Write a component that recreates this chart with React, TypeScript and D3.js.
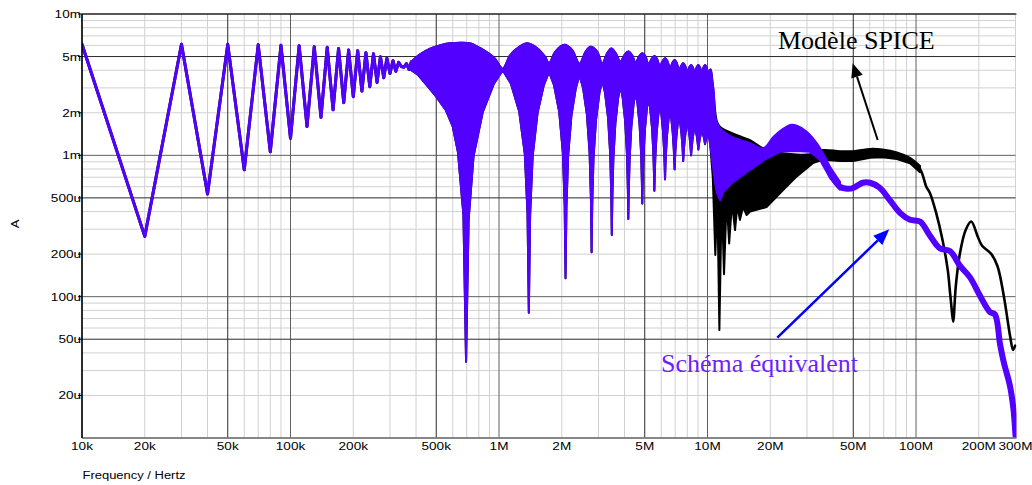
import React from 'react';
import * as d3 from 'd3';

type P = [number, number]; // [frequency MHz, current mA]

const xTickValues = [0.01, 0.02, 0.05, 0.1, 0.2, 0.5, 1, 2, 5, 10, 20, 50, 100, 200, 300];
const xTickLabels = ['10k', '20k', '50k', '100k', '200k', '500k', '1M', '2M', '5M', '10M', '20M', '50M', '100M', '200M', '300M'];
const yTickValues = [10, 5, 2, 1, 0.5, 0.2, 0.1, 0.05, 0.02];
const yTickLabels = ['10m', '5m', '2m', '1m', '500u', '200u', '100u', '50u', '20u'];

// low-frequency sweep (10 kHz step), identical for both models
const lowSweep: P[] = [
  [0.01, 6.1], [0.02, 0.267], [0.03, 6.1], [0.04, 0.533], [0.05, 6.1], [0.06, 0.79], [0.07, 6.05], [0.08, 1.06],
  [0.09, 6.0], [0.1, 1.32], [0.11, 5.97], [0.12, 1.6], [0.13, 5.87], [0.14, 1.86], [0.15, 5.81], [0.16, 2.1],
  [0.17, 5.71], [0.18, 2.36], [0.19, 5.56], [0.2, 2.6], [0.21, 5.5], [0.22, 2.85], [0.23, 5.32], [0.24, 3.06],
  [0.25, 5.24], [0.26, 3.28], [0.27, 4.99], [0.28, 3.54], [0.29, 4.86], [0.3, 3.8], [0.31, 4.67], [0.32, 3.93],
  [0.33, 4.55], [0.34, 4.25], [0.35, 4.2], [0.36, 4.45], [0.37, 4.05], [0.38, 4.6],
];

// dense comb region 0.38 - 10 MHz : upper envelope
const denseUpper: P[] = [
  [0.38, 4.6], [0.42, 5.2], [0.47, 5.7], [0.52, 6.0], [0.58, 6.2], [0.66, 6.27], [0.73, 6.2], [0.81, 5.75], [0.95, 4.88], [1.0425, 4.1],
  [1.13, 5.1], [1.26, 5.9], [1.37, 6.2], [1.53, 5.7], [1.66, 5.0], [1.7375, 4.5],
  [1.86, 5.4], [2.06, 6.05], [2.24, 5.56], [2.4325, 4.45],
  [2.6, 5.4], [2.75, 5.87], [2.95, 5.45], [3.1275, 4.45],
  [3.3, 5.27], [3.46, 5.7], [3.63, 5.27], [3.8225, 4.6],
  [3.99, 5.1], [4.17, 5.42], [4.35, 5.1], [4.5175, 4.5],
  [4.69, 5.0], [4.865, 5.27], [5.04, 5.0], [5.2125, 4.4],
  [5.39, 4.8], [5.56, 5.05], [5.73, 4.8], [5.9075, 4.25],
  [6.08, 4.62], [6.255, 4.86], [6.43, 4.62], [6.6025, 4.1],
  [6.78, 4.5], [6.95, 4.73], [7.12, 4.5], [7.2975, 4.0],
  [7.47, 4.28], [7.645, 4.48], [7.82, 4.28], [7.9925, 3.85],
  [8.17, 4.18], [8.34, 4.36], [8.51, 4.18], [8.6875, 3.8],
  [8.86, 4.18], [9.035, 4.36], [9.21, 4.18], [9.3825, 3.8],
  [9.56, 4.18], [9.73, 4.36], [9.9, 4.18], [10.0775, 3.8],
];

// dense comb region : lower envelope (notches)
const denseLower: P[] = [
  [0.38, 4.0], [0.41, 3.7], [0.445, 3.2], [0.5, 2.6], [0.555, 2.1], [0.6, 1.6], [0.635, 1.06], [0.675, 0.38], [0.695, 0.0347], [0.715, 0.352], [0.755, 0.99], [0.835, 2.02], [0.945, 3.21], [1.0425, 4.0],
  [1.14, 3.22], [1.25, 2.04], [1.33, 1.02], [1.37, 0.39], [1.39, 0.077], [1.41, 0.38], [1.45, 0.99], [1.53, 1.99], [1.64, 3.14], [1.7375, 3.9],
  [1.835, 3.15], [1.945, 2.02], [2.025, 1.04], [2.065, 0.44], [2.085, 0.135], [2.105, 0.42], [2.145, 0.99], [2.225, 1.92], [2.335, 2.99], [2.4325, 3.7],
  [2.53, 3.0], [2.64, 1.95], [2.72, 1.04], [2.76, 0.49], [2.78, 0.206], [2.8, 0.46], [2.84, 0.97], [2.92, 1.8], [3.03, 2.76], [3.1275, 3.4],
  [3.225, 2.77], [3.335, 1.84], [3.415, 1.02], [3.455, 0.52], [3.475, 0.273], [3.495, 0.5], [3.535, 0.95], [3.615, 1.69], [3.725, 2.53], [3.8225, 3.1],
  [3.92, 2.55], [4.03, 1.73], [4.11, 1.01], [4.15, 0.57], [4.17, 0.354], [4.19, 0.55], [4.23, 0.94], [4.31, 1.58], [4.42, 2.31], [4.5175, 2.8],
  [4.615, 2.33], [4.725, 1.63], [4.805, 1.02], [4.845, 0.64], [4.865, 0.457], [4.885, 0.62], [4.925, 0.96], [5.005, 1.5], [5.115, 2.13], [5.2125, 2.55],
  [5.31, 2.15], [5.42, 1.56], [5.5, 1.04], [5.54, 0.72], [5.56, 0.562], [5.58, 0.7], [5.62, 0.98], [5.7, 1.43], [5.81, 1.95], [5.9075, 2.3],
  [6.005, 1.97], [6.115, 1.49], [6.195, 1.07], [6.235, 0.81], [6.255, 0.676], [6.275, 0.79], [6.315, 1.02], [6.395, 1.39], [6.505, 1.82], [6.6025, 2.1],
  [6.7, 1.84], [6.81, 1.45], [6.89, 1.11], [6.93, 0.9], [6.95, 0.796], [6.97, 0.88], [7.01, 1.06], [7.09, 1.35], [7.2, 1.68], [7.2975, 1.9],
  [7.395, 1.7], [7.505, 1.41], [7.585, 1.15], [7.625, 0.99], [7.645, 0.912], [7.665, 0.98], [7.705, 1.11], [7.785, 1.32], [7.895, 1.56], [7.9925, 1.72],
  [8.09, 1.58], [8.2, 1.36], [8.28, 1.17], [8.32, 1.06], [8.34, 1.0], [8.36, 1.05], [8.4, 1.14], [8.48, 1.3], [8.59, 1.48], [8.6875, 1.6],
  [8.785, 1.5], [8.895, 1.35], [8.975, 1.22], [9.015, 1.14], [9.035, 1.1], [9.055, 1.13], [9.095, 1.2], [9.175, 1.3], [9.285, 1.42], [9.3825, 1.5],
  [9.48, 1.44], [9.59, 1.35], [9.67, 1.27], [9.71, 1.22], [9.73, 1.2], [9.75, 1.22], [9.79, 1.26], [9.87, 1.33], [9.98, 1.4], [10.0775, 1.45],
];

// equivalent schematic (purple) above 10 MHz
const schemaHfUpper: P[] = [
  [10.0775, 3.8], [10.25, 4.0], [10.35, 4.05], [10.55, 3.3], [10.7, 2.9], [10.9, 1.88], [11.1, 1.7], [11.5, 1.55], [13.0, 1.36],
  [16.0, 1.22], [18.5, 1.12], [20.8, 1.36], [23.2, 1.55], [24.9, 1.64], [26.8, 1.62], [29.9, 1.47], [33.4, 1.22],
  [36.5, 0.98], [38.7, 0.83], [43.2, 0.65],
];
const schemaHfLower: P[] = [
  [10.0775, 1.45], [10.3, 1.2], [10.6, 0.85], [10.9, 0.62], [11.1, 0.54], [11.5, 0.48], [11.9, 0.55], [13.0, 0.63],
  [16.0, 0.79], [19.2, 0.95], [22.3, 1.06], [24.9, 1.07], [27.8, 1.07], [31, 1.06], [34.6, 0.93], [38.7, 0.69], [43.2, 0.57],
];
const schemaTail: P[] = [
  [38.7, 0.75], [43.2, 0.6], [46.8, 0.58], [50.3, 0.59], [55.5, 0.64], [60.2, 0.64], [67, 0.59], [75, 0.48], [84, 0.39],
  [93.6, 0.35], [104.5, 0.34], [116.7, 0.27], [130, 0.22], [145.6, 0.21], [162.6, 0.165], [181.5, 0.137], [203, 0.101],
  [226, 0.078], [239, 0.075], [253, 0.046], [264, 0.034], [282, 0.0235], [293, 0.0162], [300, 0.0104],
];

// SPICE model (black) above 10 MHz
const spiceHfUpper: P[] = [
  [10.0775, 3.8], [10.25, 4.0], [10.35, 4.05], [10.55, 3.4], [10.7, 2.7], [11.1, 1.73], [11.5, 1.59], [13.2, 1.43], [16, 1.28],
  [18.5, 1.12], [21, 1.06], [24.9, 1.02], [31, 1.02], [35.6, 1.09], [43.2, 1.07], [50, 1.07], [60.2, 1.11], [69, 1.1],
  [81, 1.05], [93.6, 0.96], [104.5, 0.84],
];
const spiceHfLower: P[] = [
  [10.0775, 1.45], [10.3, 1.2], [10.6, 0.7], [10.9, 0.197], [11.15, 0.5], [11.4, 0.058], [11.7, 0.5], [12.0, 0.144],
  [12.35, 0.48], [12.7, 0.238], [13.1, 0.46], [13.55, 0.296], [13.9, 0.44], [14.3, 0.349], [14.8, 0.43], [15.4, 0.378],
  [16.0, 0.4], [19.2, 0.43], [22.3, 0.54], [26.8, 0.71], [32, 0.88], [35.6, 0.93], [43.2, 0.91], [50, 0.91], [60.2, 0.96],
  [69, 0.97], [81, 0.94], [93.6, 0.88], [104.5, 0.76],
];
const spiceTail: P[] = [
  [93.6, 0.91], [104.5, 0.8], [112, 0.6], [116.7, 0.54], [125, 0.39], [134, 0.252], [142, 0.154], [146, 0.103],
  [151, 0.0665], [153, 0.087], [155, 0.117], [162.6, 0.204], [173, 0.296], [184, 0.34], [197, 0.27], [207, 0.23],
  [230, 0.2], [246, 0.164], [264, 0.1], [283, 0.052], [292, 0.042], [299, 0.045],
];

const PURPLE = '#5200ff';
const TEXT_PURPLE = '#6e1eff';

export default function App() {
  const L = 82, R = 1015.5, T = 14, B = 438;
  const x = d3.scaleLog().domain([0.01, 300]).range([L, R]);
  const y = d3.scaleLog().domain([0.01, 10]).range([B, T]);

  const lin = d3.line<P>().x(d => x(d[0])).y(d => y(d[1]));
  const smooth = d3.line<P>().x(d => x(d[0])).y(d => y(d[1])).curve(d3.curveCatmullRom.alpha(0.5));

  const band = (upper: P[], lower: P[], upperSmooth: boolean) => {
    const up = (upperSmooth ? smooth(upper) : lin(upper)) as string;
    const lo = lin([...lower].reverse()) as string;
    return up + 'L' + lo.slice(1) + 'Z';
  };

  const denseBand = band(denseUpper, denseLower, true);
  const schemaBand = band(schemaHfUpper, schemaHfLower, true);
  const spiceBand = band(spiceHfUpper, spiceHfLower, true);

  const gridX: { v: number; major: number }[] = [];
  [0.01, 0.1, 1, 10, 100].forEach(dec => {
    for (let m = 1; m <= 9; m++) {
      const v = dec * m;
      if (v <= 300.0001) gridX.push({ v, major: m === 1 ? 1 : m === 5 ? 2 : 0 });
    }
  });
  const gridY: { v: number; major: number }[] = [];
  [0.01, 0.1, 1].forEach(dec => {
    for (let m = 1; m <= 9; m++) gridY.push({ v: dec * m, major: m === 1 ? 1 : m === 5 ? 2 : 0 });
  });
  gridY.push({ v: 10, major: 1 });

  const gridColor = (mj: number) => (mj === 2 ? '#2a2a2a' : mj === 1 ? '#606060' : '#d0d0d0');
  const sans = 'Liberation Sans, Arial, sans-serif';
  const serif = 'Liberation Serif, Times New Roman, serif';

  return (
    <svg width={1032} height={485} style={{ position: 'absolute', left: 0, top: 0, background: '#fff' }}>
      <defs>
        <clipPath id="plot">
          <rect x={L} y={T} width={R - L + 1} height={B - T} />
        </clipPath>
      </defs>
      {gridX.filter(g => g.major === 0).map((g, i) => (
        <line key={'gx' + i} x1={x(g.v)} x2={x(g.v)} y1={T} y2={B} stroke={gridColor(0)} strokeWidth={1} />
      ))}
      {gridY.filter(g => g.major === 0).map((g, i) => (
        <line key={'gy' + i} x1={L} x2={R} y1={y(g.v)} y2={y(g.v)} stroke={gridColor(0)} strokeWidth={1} />
      ))}
      {gridX.filter(g => g.major > 0).map((g, i) => (
        <line key={'gxm' + i} x1={x(g.v)} x2={x(g.v)} y1={T} y2={B} stroke={gridColor(g.major)} strokeWidth={1} />
      ))}
      {gridY.filter(g => g.major > 0).map((g, i) => (
        <line key={'gym' + i} x1={L} x2={R} y1={y(g.v)} y2={y(g.v)} stroke={gridColor(g.major)} strokeWidth={1} />
      ))}

      <g clipPath="url(#plot)" strokeLinejoin="round" strokeLinecap="round">
        {/* SPICE model (black) */}
        <path d={lin(lowSweep) as string} fill="none" stroke="#000" strokeWidth={3} />
        <path d={denseBand} fill="#000" stroke="#000" strokeWidth={2} />
        <path d={spiceBand} fill="#000" stroke="#000" strokeWidth={2} />
        <path d={smooth(spiceTail) as string} fill="none" stroke="#000" strokeWidth={2.6} />
        {/* Equivalent schematic (purple) */}
        <path d={lin(lowSweep) as string} fill="none" stroke={PURPLE} strokeWidth={3} />
        <path d={denseBand} fill={PURPLE} stroke={PURPLE} strokeWidth={2} />
        <path d={schemaBand} fill={PURPLE} stroke={PURPLE} strokeWidth={2} />
        <path d={smooth(schemaTail) as string} fill="none" stroke={PURPLE} strokeWidth={6} />
      </g>

      {/* frame */}
      <line x1={L} x2={R + 1} y1={T} y2={T} stroke="#000" strokeWidth={1} />
      <line x1={L} x2={R + 1} y1={B} y2={B} stroke="#7a7a7a" strokeWidth={1.5} />
      <line x1={L} x2={L} y1={T} y2={B} stroke="#000" strokeWidth={1.5} />
      {yTickValues.map((v, i) => (
        <line key={'yt' + i} x1={L - 4} x2={L} y1={y(v)} y2={y(v)} stroke="#000" strokeWidth={1} />
      ))}

      {yTickValues.map((v, i) => (
        <text key={'yl' + i} transform={`translate(${L - 1},${y(v) + 4}) scale(1.18,1)`} textAnchor="end"
          fontFamily={sans} fontSize={11.5} fill="#000">{yTickLabels[i]}</text>
      ))}
      {xTickValues.map((v, i) => (
        <text key={'xl' + i} transform={`translate(${x(v)},${450}) scale(1.18,1)`} textAnchor="middle"
          fontFamily={sans} fontSize={11.5} fill="#000">{xTickLabels[i]}</text>
      ))}
      <text transform={`translate(19,224) rotate(-90) scale(1.18,1)`} textAnchor="middle" fontFamily={sans} fontSize={11}>A</text>
      <text transform={`translate(82.5,479) scale(1.18,1)`} fontFamily={sans} fontSize={11}>Frequency / Hertz</text>

      {/* annotations */}
      <text x={778} y={48.5} fontFamily={serif} fontSize={26} fill="#000">Modèle SPICE</text>
      <line x1={877.7} y1={140} x2={857} y2={76.6} stroke="#000" strokeWidth={2} />
      <polygon points="852.7,63.3 862.7,74.7 851.3,78.5" fill="#000" />

      <text x={661} y={371.5} fontFamily={serif} fontSize={26} fill={TEXT_PURPLE}>Schéma équivalent</text>
      <line x1={777.3} y1={337.7} x2={877.8} y2={240.4} stroke="#0000ff" strokeWidth={2.5} />
      <polygon points="889.3,229.3 882.3,245.1 873.3,235.7" fill="#0000ff" />
    </svg>
  );
}
